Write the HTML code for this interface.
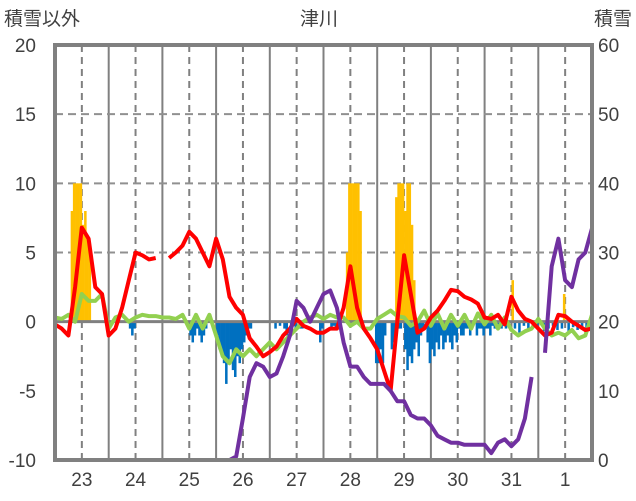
<!DOCTYPE html>
<html><head><meta charset="utf-8"><style>
body{margin:0;background:#fff;}
svg{display:block;font-family:"Liberation Sans","Noto Sans CJK JP",sans-serif;}
</style></head><body>
<svg id="c" width="636" height="501"></svg>
<script>
const dayLabels=["23","24","25","26","27","28","29","30","31","1"];
const leftTicks=[-10,-5,0,5,10,15,20];
const rightTicks=[0,10,20,30,40,50,60];
const redVals=[-0.2,-0.5,-1,2.5,6.8,6,2.5,2,-1,-0.5,1,3,5,4.8,4.5,4.6,null,4.6,5,5.5,6.5,6,5,4,6,4.5,1.8,1,0.5,-1.2,-1.8,-2.5,-2.2,-1.8,-1,-0.5,0.2,-0.3,-0.5,-0.8,-0.8,-0.5,-0.5,1,4,1,-0.5,-1.2,-2,-3.5,-5,0,4.8,2,-0.8,-0.5,0.3,0.8,1.5,2.3,2.2,1.8,1.6,1.3,0.3,0.2,0.5,-0.2,1.8,0.8,0.2,0,-0.5,-1,-0.8,0.5,0.4,0,-0.3,-0.6,-0.5];
const greenVals=[0.3,0.2,0.5,0,2,1.5,1.5,2,-0.5,0.3,0.5,0,0.3,0.5,0.4,0.4,0.3,0.3,0.2,0.5,-0.5,0.5,-0.5,0.5,-1,-2.5,-3,-2,-2.5,-2,-2.5,-2,-1.5,-2,-1.5,-1,-0.5,0,0.3,0.5,0.2,0.5,0.3,0.3,-0.3,0,-0.5,-0.5,0.2,0.5,0.8,0.4,0.3,-0.3,0,0.8,-0.3,0.6,-0.5,0.5,-0.3,0.5,-0.5,0.6,-0.2,0.5,-0.5,0.3,-0.6,-1,-0.7,-0.5,0.2,-0.5,-1,-0.8,-1,-0.6,-1.2,-1,0.5];
const purpleVals=[0,0,0,0,0,0,0,0,0,0,0,0,0,0,0,0,0,0,0,0,0,0,0,0,0,0,0,0.5,6,12,14,13.5,12,12.5,15,18,23,22,20,22,24,24.5,22,17,13.5,13.5,12,11,11,11,10,8.5,8.5,6.5,6,6,5,3.5,3,2.5,2.5,2.2,2.2,2.2,2.2,1,2.5,3,2,3,6,12,null,15.5,28,32,26,25,29,30,33.5];
const snowHours=[7,8,9,10,11,12,13,14,15,130,131,132,133,134,135,136,152,153,154,155,156,157,158,159,160,204,227];
const snowVals=[8,10,10,10,10,7,8,6,5,5,10,10,10,10,10,8,9,10,10,10,8,10,10,7,3,3,2];
const blueHours=[33,34,35,60,61,62,63,64,65,66,67,72,73,74,75,76,77,78,79,80,81,82,83,84,85,86,87,98,100,102,103,105,106,107,109,110,118,119,123,124,125,126,143,144,145,146,147,150,151,152,153,154,156,157,158,159,160,161,162,163,164,166,167,168,169,170,171,172,173,174,175,176,177,178,179,180,181,182,183,184,185,188,189,190,191,192,193,194,195,196,197,198,199,200,201,205,207,209,211,213,215,218,220,222,224,226,229,231,233,235,237,239];
const blueVals=[-0.5,-1,-0.5,-1,-1.5,-1,-0.5,-1,-1.5,-1,-0.5,-1,-2,-2.5,-3,-4.5,-3,-2,-3.5,-4,-2.5,-3,-2,-1.5,-1,-0.5,-0.5,-0.5,-0.3,-0.5,-1,-0.5,-0.3,-0.5,-0.5,-0.5,-1.5,-0.5,-0.5,-0.3,-0.5,-0.3,-3,-3,-2,-3,-1,-2,-1.5,-1,-0.5,-0.5,-2,-3.5,-2.5,-3,-2,-1.5,-2.5,-1,-0.5,-1.5,-3,-2,-2.5,-1.5,-2,-1,-2,-1.5,-1,-1.5,-2,-1,-1.5,-0.5,-1,-1,-0.5,-0.5,-1,-1,-0.5,-0.5,-1,-0.5,-0.5,-1,-0.3,-0.5,-0.5,-0.3,-0.5,-0.3,-0.5,-0.5,-0.8,-0.3,-0.6,-0.5,-0.4,-0.7,-0.5,-0.3,-0.6,-0.5,-0.8,-0.4,-0.6,-0.5,-0.7,-0.5];

const NS="http://www.w3.org/2000/svg";
const svg=document.getElementById('c');
const L=55,R=592,T=45,B=460;
const hx=h=>L+h*(R-L)/240;
const yl=v=>B-(v+10)*(B-T)/30;
const yr=v=>B-v*(B-T)/60;
function el(tag,attrs,parent){const e=document.createElementNS(NS,tag);for(const k in attrs)e.setAttribute(k,attrs[k]);(parent||svg).appendChild(e);return e;}

for(let d=0;d<10;d++){
  const g=el('line',{x1:hx(d*24+12),x2:hx(d*24+12),y1:T,y2:B,stroke:'#808080','stroke-width':2,'stroke-dasharray':'7,5'});
  
  
  if(d>0){const s=el('line',{x1:hx(d*24),x2:hx(d*24),y1:T,y2:B,stroke:'#808080','stroke-width':2});
  
  }
  const t=el('text',{x:hx(d*24+12),y:486,'text-anchor':'middle','font-size':19,fill:'#404040'});t.textContent=dayLabels[d];
  
  
}
leftTicks.forEach(v=>{
  if(v>0&&v<20){const g=el('line',{x1:L,x2:R,y1:yl(v),y2:yl(v),stroke:'#909090','stroke-width':2,'stroke-dasharray':'8,5'});
  
  }
  const t=el('text',{x:36,y:yl(v)+7,'text-anchor':'end','font-size':19,fill:'#404040'});t.textContent=v;
  
  
});
rightTicks.forEach(v=>{
  const t=el('text',{x:598,y:yr(v)+7,'font-size':19,fill:'#404040'});t.textContent=v;
  
  
});
const bw=(R-L)/240;
snowHours.forEach((h,i)=>{const v=snowVals[i];
  const r=el('rect',{x:hx(h),y:yl(v),width:bw+0.3,height:yl(0)-yl(v),fill:'#FFC000'});
  
  });
blueHours.forEach((h,i)=>{const v=blueVals[i];
  const r=el('rect',{x:hx(h),y:yl(0),width:bw+0.3,height:yl(v)-yl(0),fill:'#0070C0'});
  
  });
const z=el('line',{x1:L,x2:R,y1:yl(0),y2:yl(0),stroke:'#808080','stroke-width':3});


function line(vals,yf,color,name){
  let d='',pen=false;
  vals.forEach((v,i)=>{if(v===null){pen=false;return;}d+=(pen?'L':'M')+hx(i*3).toFixed(1)+','+yf(v).toFixed(1);pen=true;});
  const p=el('path',{d:d,fill:'none',stroke:color,'stroke-width':4,'stroke-linejoin':'round'});
  
  
}
line(greenVals,yl,'#92D050','green-series-line');
line(redVals,yl,'#FF0000','red-series-line');
line(purpleVals,yr,'#7030A0','snow-depth-line');
const f=el('rect',{x:L,y:T,width:R-L,height:B-T,fill:'none',stroke:'#808080','stroke-width':4});


const tt=el('text',{x:319,y:25,'text-anchor':'middle','font-size':19,fill:'#404040'});tt.textContent='津川';


const lt=el('text',{x:4,y:25,'font-size':19,fill:'#404040'});lt.textContent='積雪以外';


const rt=el('text',{x:632,y:25,'text-anchor':'end','font-size':19,fill:'#404040'});rt.textContent='積雪';


</script>
</body></html>
